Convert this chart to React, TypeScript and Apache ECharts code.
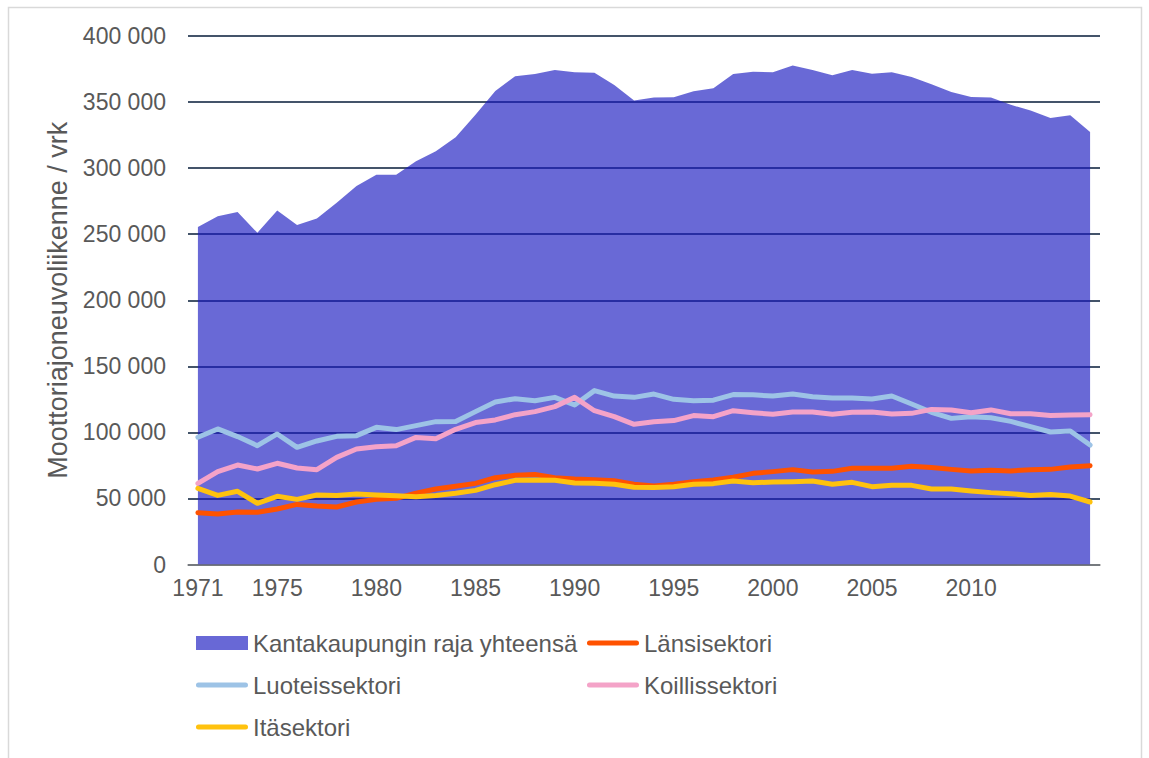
import React, { useEffect, useRef } from "react";
import * as echarts from "echarts";

const years = [
  "1971", "1972", "1973", "1974", "1975", "1976", "1977", "1978", "1979", "1980",
  "1981", "1982", "1983", "1984", "1985", "1986", "1987", "1988", "1989", "1990",
  "1991", "1992", "1993", "1994", "1995", "1996", "1997", "1998", "1999", "2000",
  "2001", "2002", "2003", "2004", "2005", "2006", "2007", "2008", "2009", "2010",
  "2011", "2012", "2013", "2014", "2015", "2016",
];

const shownYearLabels = ["1971", "1975", "1980", "1985", "1990", "1995", "2000", "2005", "2010"];

const total = [
  255500, 263500, 266800, 251000, 268000, 257000, 261800, 273800, 286400, 295000,
  295000, 305200, 312700, 323300, 340400, 358400, 369500, 371200, 374200, 372500,
  372200, 363000, 351100, 353500, 353600, 358200, 360400, 371200, 373000, 372500,
  377700, 374200, 370200, 374200, 371500, 372500, 369000, 363400, 357700, 353900,
  353400, 347900, 343600, 337900, 340100, 327300,
];

const lansi = [
  39200, 38200, 39700, 39500, 42000, 45500, 44300, 43500, 47300, 49300,
  50100, 53900, 57100, 59200, 61400, 65700, 67500, 68200, 65700, 64700,
  64200, 63400, 60700, 59400, 60700, 62700, 64000, 66000, 69000, 70300,
  71800, 70000, 70500, 72800, 72800, 72800, 74300, 73500, 72000, 70800,
  71300, 70800, 71800, 72000, 73800, 74800,
];

const luoteis = [
  96300, 102600, 96800, 89900, 98800, 88700, 93500, 97000, 97500, 103800,
  102100, 105100, 108100, 108300, 115700, 123000, 125500, 124000, 126500, 120700,
  131600, 127500, 126500, 129000, 125000, 124000, 124400, 128600, 128400, 127500,
  129000, 127000, 126000, 126000, 125300, 127500, 121500, 115200, 110600, 111900,
  111100, 108300, 104300, 100300, 101000, 90400,
];

const koillis = [
  61400, 70300, 75300, 72300, 76600, 73000, 71800, 81100, 87400, 89200,
  89900, 96200, 95200, 102300, 107400, 109400, 113400, 115700, 119500, 126500,
  116400, 111900, 106100, 108100, 108900, 112700, 111900, 116400, 114900, 113700,
  115400, 115400, 113700, 115200, 115400, 113900, 114400, 117400, 117000, 114900,
  117000, 114100, 114100, 112700, 113200, 113400,
];

const ita = [
  57600, 52300, 55400, 46300, 51600, 49300, 52600, 52300, 53400, 52600,
  52100, 51300, 52300, 53900, 56100, 60400, 63700, 64000, 63700, 61700,
  61500, 60700, 58400, 58200, 58900, 60700, 61200, 63200, 61900, 62400,
  62700, 63200, 60700, 62200, 58900, 59900, 59900, 57100, 57100, 55600,
  54400, 53600, 52300, 53000, 51800, 47300,
];

const names = {
  total: "Kantakaupungin raja yhteensä",
  lansi: "Länsisektori",
  luoteis: "Luoteissektori",
  koillis: "Koillissektori",
  ita: "Itäsektori",
};

const yTitle = "Moottoriajoneuvoliikenne / vrk";
const FONT = "'Liberation Sans', Arial, Helvetica, sans-serif";
const TXT = "#595959";
const LINE_ICON = "path://M2.5,0 L49.5,0 A2.5,2.5 0 0 1 49.5,5 L2.5,5 A2.5,2.5 0 0 1 2.5,0 Z";

function fmt(v: number): string {
  return String(v).replace(/\B(?=(\d{3})+(?!\d))/g, " ");
}

export default function App() {
  const ref = useRef<HTMLDivElement>(null);
  useEffect(() => {
    if (!ref.current) return;
    const chart = echarts.init(ref.current, null, { renderer: "svg" });
    const lineSeries = (name: string, data: number[], color: string) => ({
      name,
      type: "line",
      data,
      symbol: "none",
      showSymbol: false,
      silent: true,
      itemStyle: { color },
      lineStyle: { color, width: 5, cap: "round", join: "round" },
    });
    const legendBase = {
      orient: "vertical",
      top: 631,
      padding: 0,
      itemWidth: 52,
      itemHeight: 14,
      itemGap: 18,
      symbolKeepAspect: true,
      selectedMode: false,
      textStyle: { color: TXT, fontSize: 24, lineHeight: 24, fontFamily: FONT },
    };
    chart.setOption({
      animation: false,
      textStyle: { fontFamily: FONT },
      graphic: [
        {
          type: "rect",
          silent: true,
          z: -10,
          shape: { x: 8.5, y: 7.5, width: 1133, height: 800 },
          style: { fill: "#ffffff", stroke: "#d9d9d9", lineWidth: 1.5 },
        },
      ],
      grid: { left: 188, right: 49, top: 36, bottom: 193.5, containLabel: false },
      xAxis: {
        type: "category",
        data: years,
        boundaryGap: true,
        axisLine: { lineStyle: { color: "#868686", width: 1.5 } },
        axisTick: {
          interval: (i: number) => i % 5 === 0,
          length: 7,
          lineStyle: { color: "#868686", width: 1.5 },
        },
        axisLabel: {
          interval: (_i: number, v: string) => shownYearLabels.indexOf(v) >= 0,
          color: TXT,
          fontSize: 23,
          fontFamily: FONT,
          margin: 12,
        },
        splitLine: { show: false },
      },
      yAxis: {
        type: "value",
        min: 0,
        max: 400000,
        interval: 50000,
        axisLine: { show: false },
        axisTick: { show: false },
        splitLine: { lineStyle: { color: "#44546a", width: 2 } },
        axisLabel: {
          formatter: (v: number) => fmt(v),
          color: TXT,
          fontSize: 23,
          fontFamily: FONT,
          margin: 22,
        },
        name: yTitle,
        nameLocation: "middle",
        nameRotate: 90,
        nameGap: 113,
        nameTextStyle: { color: TXT, fontSize: 27, fontFamily: FONT },
      },
      legend: [
        {
          ...legendBase,
          left: 196,
          data: [
            { name: names.total, icon: "rect" },
            { name: names.luoteis, icon: LINE_ICON },
            { name: names.ita, icon: LINE_ICON },
          ],
        },
        {
          ...legendBase,
          left: 587,
          data: [
            { name: names.lansi, icon: LINE_ICON },
            { name: names.koillis, icon: LINE_ICON },
          ],
        },
      ],
      series: [
        {
          name: names.total,
          type: "line",
          data: total,
          symbol: "none",
          showSymbol: false,
          silent: true,
          itemStyle: { color: "#6868d6" },
          lineStyle: { width: 0, opacity: 0 },
          areaStyle: { color: "#1919c0", opacity: 0.65 },
        },
        lineSeries(names.lansi, lansi, "#ff5200"),
        lineSeries(names.luoteis, luoteis, "#9dc3e6"),
        lineSeries(names.koillis, koillis, "#f4a3c8"),
        lineSeries(names.ita, ita, "#ffc20e"),
      ],
    });
    return () => chart.dispose();
  }, []);
  return (
    <div
      ref={ref}
      style={{ position: "fixed", left: 0, top: 0, width: 1149, height: 758, background: "#ffffff" }}
    />
  );
}
